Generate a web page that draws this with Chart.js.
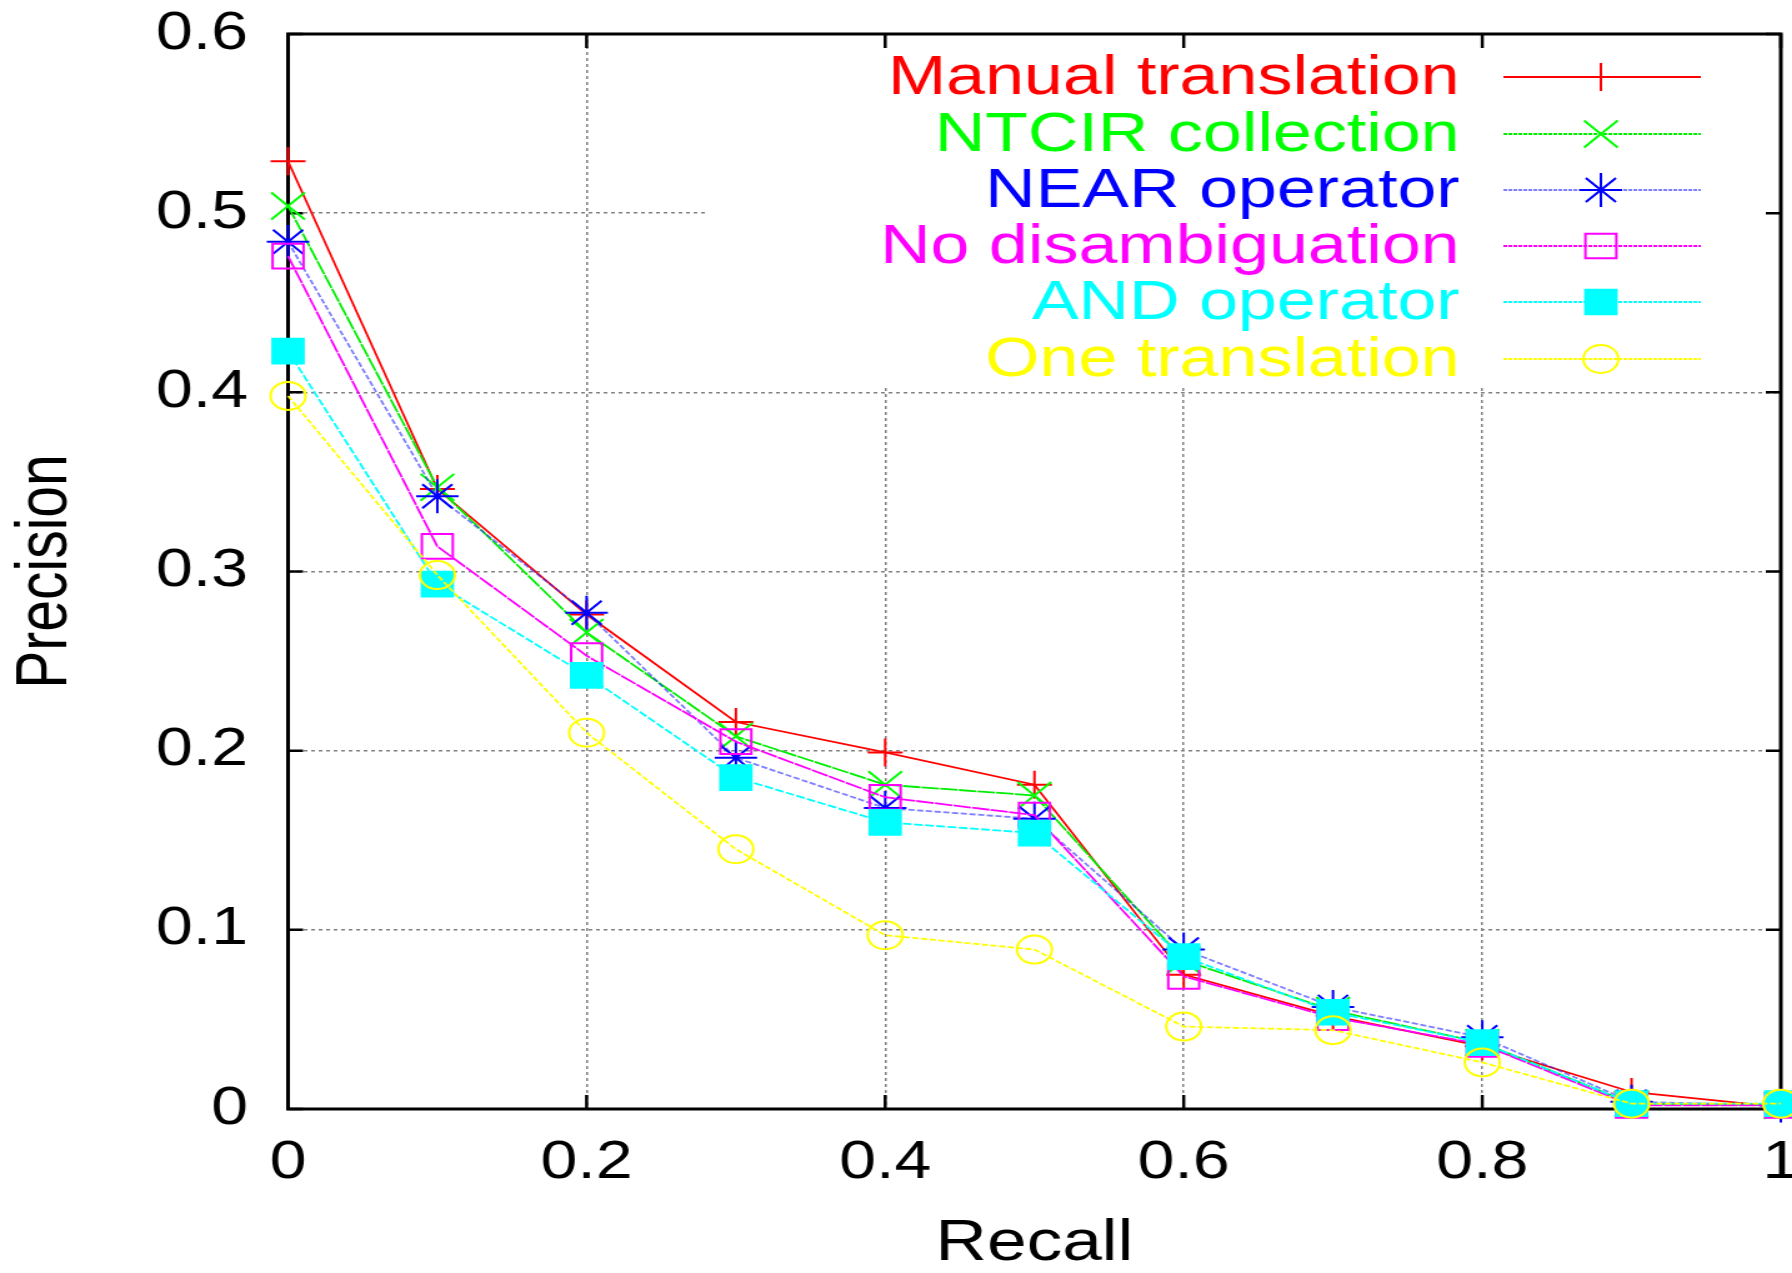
<!DOCTYPE html>
<html>
<head>
<meta charset="utf-8">
<script src="https://cdn.jsdelivr.net/npm/chart.js@4/dist/chart.umd.min.js"></script>
<style>
  html, body { margin: 0; padding: 0; background: #fff; overflow: hidden; }
  /* the source image is stretched sideways, so the whole chart is too */
  #wrap { width: 1434px; height: 1273px; transform: scaleX(1.2497); transform-origin: 0 0; }
  canvas { display: block; }
</style>
</head>
<body>
<div id="wrap"><canvas id="pr-chart" width="1434" height="1273"></canvas></div>
<script>
// ── Data ─────────────────────────────────────────────────────
const RECALL = [0, 0.1, 0.2, 0.3, 0.4, 0.5, 0.6, 0.7, 0.8, 0.9, 1.0];

const MANUAL   = [0.529, 0.346, 0.276, 0.216, 0.199, 0.181, 0.075, 0.052, 0.035, 0.0095, 0.001];
const NTCIR    = [0.504, 0.347, 0.266, 0.208, 0.181, 0.175, 0.083, 0.055, 0.037, 0.003, 0.002];
const NEAR     = [0.484, 0.342, 0.277, 0.196, 0.168, 0.162, 0.089, 0.057, 0.040, 0.004, 0.002];
const NO_DISAM = [0.476, 0.314, 0.253, 0.205, 0.174, 0.164, 0.074, 0.051, 0.036, 0.002, 0.002];
const AND_OP   = [0.423, 0.293, 0.242, 0.185, 0.160, 0.154, 0.085, 0.054, 0.037, 0.003, 0.003];
const ONE_TR   = [0.398, 0.298, 0.210, 0.145, 0.097, 0.089, 0.046, 0.044, 0.026, 0.003, 0.003];

const SERIES_NAMES = ['Manual translation', 'NTCIR collection', 'NEAR operator',
                      'No disambiguation', 'AND operator', 'One translation'];

const X_TICK_LABELS = ['0', '0.2', '0.4', '0.6', '0.8', '1'];
const Y_TICK_LABELS = ['0', '0.1', '0.2', '0.3', '0.4', '0.5', '0.6'];

// ── Styles ───────────────────────────────────────────────────
const FONT = "'Liberation Sans', Arial, sans-serif";
const STYLES = [
  { line: '#ff0000',             mark: '#ff0000', fill: 'rgba(0,0,0,0)', style: 'cross',    r: 14,   dash: [] },
  { line: '#00ee00',             mark: '#00ff00', fill: 'rgba(0,0,0,0)', style: 'crossRot', r: 19,   dash: [14, 1] },
  { line: 'rgba(40,40,255,0.6)', mark: '#0000ff', fill: 'rgba(0,0,0,0)', style: 'star',     r: 17,   dash: [5, 2] },
  { line: '#ff00ff',             mark: '#ff00ff', fill: 'rgba(0,0,0,0)', style: 'rect',     r: 17.5, dash: [14, 1] },
  { line: '#00ffff',             mark: '#00ffff', fill: '#00ffff',       style: 'rect',     r: 17.5, dash: [7, 2] },
  { line: '#ffff00',             mark: '#ffff00', fill: 'rgba(0,0,0,0)', style: 'circle',   r: 14,   dash: [5, 2] },
];
const ALL_Y = [MANUAL, NTCIR, NEAR, NO_DISAM, AND_OP, ONE_TR];

// key box (grid hidden behind it) and key rows
const KEY = { left: 567, bottom: 388, textRight: 1168, lineFrom: 1203, lineTo: 1361, markX: 1281,
              rows: [77, 134, 190, 246, 302, 359] };

// ── Frame, inner ticks, key ──────────────────────────────────
const gnuFrame = {
  id: 'gnuFrame',
  beforeDatasetsDraw(chart) {
    const { ctx, chartArea: a, scales: { x, y } } = chart;
    ctx.save();
    ctx.fillStyle = '#fff';
    ctx.fillRect(KEY.left, a.top, a.right - KEY.left, KEY.bottom - a.top);

    ctx.strokeStyle = '#000';
    ctx.lineWidth = 2.5;
    ctx.beginPath();
    x.ticks.forEach(t => {
      const px = x.getPixelForValue(t.value);
      ctx.moveTo(px, a.bottom); ctx.lineTo(px, a.bottom - 14);
      ctx.moveTo(px, a.top);    ctx.lineTo(px, a.top + 14);
    });
    y.ticks.forEach(t => {
      const py = y.getPixelForValue(t.value);
      ctx.moveTo(a.left, py);  ctx.lineTo(a.left + 12, py);
      ctx.moveTo(a.right, py); ctx.lineTo(a.right - 12, py);
    });
    ctx.stroke();

    ctx.lineWidth = 3;
    ctx.strokeRect(a.left, a.top, a.right - a.left, a.bottom - a.top);
    ctx.restore();
  },
  afterDraw(chart) {
    const ctx = chart.ctx;
    ctx.save();
    ctx.font = '56px ' + FONT;
    ctx.textAlign = 'right';
    ctx.textBaseline = 'middle';
    SERIES_NAMES.forEach((name, i) => {
      const s = STYLES[i], yy = KEY.rows[i];
      ctx.fillStyle = s.mark;
      ctx.fillText(name, KEY.textRight, yy + 2);

      ctx.strokeStyle = s.line;
      ctx.lineWidth = 1.8;
      ctx.setLineDash(i === 0 ? [] : [3, 1]);
      ctx.beginPath();
      ctx.moveTo(KEY.lineFrom, yy); ctx.lineTo(KEY.lineTo, yy);
      ctx.stroke();
      ctx.setLineDash([]);

      ctx.strokeStyle = s.mark;
      ctx.fillStyle = s.fill;
      ctx.lineWidth = 2;
      Chart.helpers.drawPoint(ctx, { pointStyle: s.style, radius: s.r, rotation: 0, borderWidth: 2 }, KEY.markX, yy);
    });
    ctx.restore();
  }
};

// ── Chart ────────────────────────────────────────────────────
const datasets = ALL_Y.map((vals, i) => {
  const s = STYLES[i];
  return {
    label: SERIES_NAMES[i],
    data: RECALL.map((r, j) => ({ x: r, y: vals[j] })),
    borderColor: s.line,
    borderWidth: 1.8,
    borderDash: s.dash,
    pointStyle: s.style,
    pointRadius: s.r,
    pointHoverRadius: s.r,
    pointBorderColor: s.mark,
    pointBackgroundColor: s.fill,
    pointBorderWidth: 2,
    tension: 0,
    clip: false,
    order: ALL_Y.length - i,
  };
});

const tickFont = { family: FONT, size: 53 };
const titleFont = { family: FONT, size: 57, lineHeight: 1 };

new Chart(document.getElementById('pr-chart').getContext('2d'), {
  type: 'line',
  data: { datasets },
  options: {
    responsive: false,
    animation: false,
    devicePixelRatio: 1,
    layout: { autoPadding: false, padding: { top: 34, right: 9, left: 0, bottom: 0 } },
    plugins: { legend: { display: false }, tooltip: { enabled: false } },
    scales: {
      x: {
        type: 'linear', min: 0, max: 1,
        ticks: { stepSize: 0.2, color: '#000', font: tickFont, padding: 23, maxRotation: 0,
                 callback: (v, i) => X_TICK_LABELS[i] },
        grid: { color: '#808080', lineWidth: 1.5, drawTicks: false },
        border: { display: false, dash: [3, 3] },
        title: { display: true, text: 'Recall', color: '#000', font: titleFont, padding: { top: 0, bottom: 0 } },
        afterFit: s => { s.height = 164; s.paddingLeft = 0; s.paddingRight = 0; }
      },
      y: {
        type: 'linear', min: 0, max: 0.6,
        ticks: { stepSize: 0.1, color: '#000', font: tickFont, padding: 32,
                 callback: (v, i) => Y_TICK_LABELS[i] },
        grid: { color: '#808080', lineWidth: 1.5, drawTicks: false },
        border: { display: false, dash: [3, 3] },
        title: { display: true, text: 'Precision', color: '#000', font: titleFont, padding: { top: 9, bottom: 0 } },
        afterFit: s => { s.width = 230.5; s.paddingTop = 0; s.paddingBottom = 0; }
      }
    }
  },
  plugins: [gnuFrame]
});
</script>
</body>
</html>
